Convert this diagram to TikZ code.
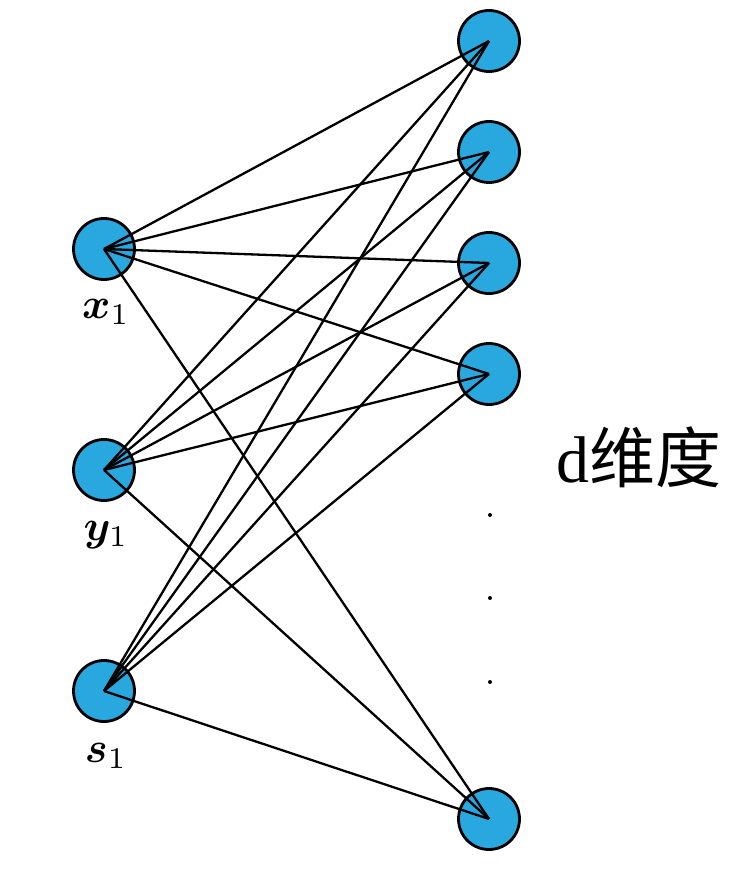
\documentclass[tikz,border=0pt]{standalone}
\usepackage{fontspec}
\usepackage{graphicx}
\usepackage{bm}
\newfontfamily\cjk{Noto Sans CJK SC}
\newfontfamily\dfont{Liberation Serif}
\definecolor{nodeblue}{RGB}{41,168,224}
\begin{document}
\begin{tikzpicture}[x=1pt,y=-1pt,
  neuron/.style={circle,draw=black,line width=2.8pt,fill=nodeblue,minimum size=61pt,inner sep=0pt},
  link/.style={line width=2.3pt,black},
  lab/.style={anchor=base,inner sep=0pt},
  vdot/.style={circle,fill=black,inner sep=0pt,minimum size=4pt}]
\useasboundingbox (0,0) rectangle (749,874);
% left nodes
\node[neuron] (x1) at (104,249) {};
\node[neuron] (y1) at (104,470) {};
\node[neuron] (s1) at (104,691) {};
% right nodes
\node[neuron] (r1) at (489,41) {};
\node[neuron] (r2) at (489,152) {};
\node[neuron] (r3) at (489,263) {};
\node[neuron] (r4) at (489,374) {};
\node[neuron] (r5) at (489,819) {};
% connections
\foreach \a in {x1,y1,s1}{
  \foreach \b in {r1,r2,r3,r4,r5}{
    \draw[link] (\a.center) -- (\b.center);
  }
}
% labels
\node[lab] (lx) at (106,318) {\scalebox{4.3}{$\bm{x}_1$}};
\node[lab] (ly) at (106,540) {\scalebox{4.3}{$\bm{y}_1$}};
\node[lab] (ls) at (106,762) {\scalebox{4.3}{$\bm{s}_1$}};
% dots
\node[vdot] (d1) at (490,515) {};
\node[vdot] (d2) at (490,598) {};
\node[vdot] (d3) at (490,682) {};
% text
\node[anchor=base west,inner sep=0pt] (dim) at (556,482) {\fontsize{66}{72}\selectfont\dfont d\cjk 维度};
\end{tikzpicture}
\end{document}
